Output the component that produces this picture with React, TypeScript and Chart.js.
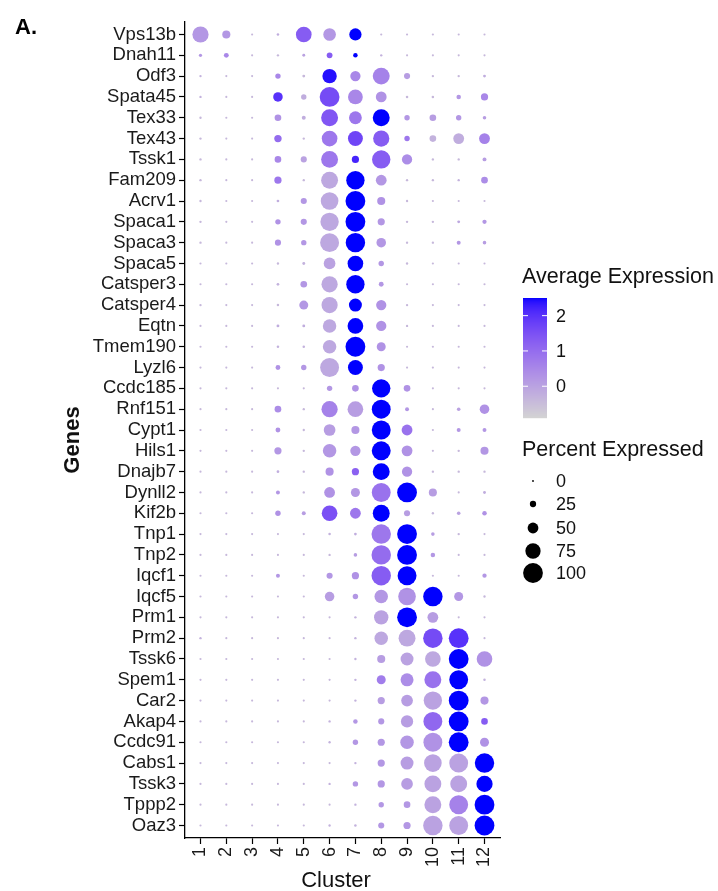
import { useEffect, useRef } from "react";
import { Chart, registerables } from "chart.js";

Chart.register(...registerables);

// ---------------- DATA ----------------
const genes = [
  "Vps13b", "Dnah11", "Odf3", "Spata45", "Tex33", "Tex43", "Tssk1", "Fam209",
  "Acrv1", "Spaca1", "Spaca3", "Spaca5", "Catsper3", "Catsper4", "Eqtn", "Tmem190",
  "Lyzl6", "Ccdc185", "Rnf151", "Cypt1", "Hils1", "Dnajb7", "Dynll2", "Kif2b",
  "Tnp1", "Tnp2", "Iqcf1", "Iqcf5", "Prm1", "Prm2", "Tssk6", "Spem1",
  "Car2", "Akap4", "Ccdc91", "Cabs1", "Tssk3", "Tppp2", "Oaz3",
];

const clusters = ["1", "2", "3", "4", "5", "6", "7", "8", "9", "10", "11", "12"];

// Percent expressed, one row per gene (clusters 1..12)
const pctExpressed: number[][] = [
  [80, 35, 2, 4, 77, 60, 58, 2, 2, 2, 2, 2],
  [8, 17, 2, 3, 6, 22, 15, 3, 2, 2, 2, 2],
  [3, 2, 2, 20, 6, 70, 47, 84, 24, 3, 3, 6],
  [3, 2, 2, 43, 20, 100, 72, 50, 4, 4, 15, 30],
  [3, 2, 2, 27, 12, 84, 61, 84, 20, 27, 20, 10],
  [3, 2, 2, 31, 3, 77, 73, 80, 20, 27, 50, 50],
  [3, 2, 2, 27, 24, 84, 30, 92, 47, 3, 3, 12],
  [3, 2, 2, 30, 3, 84, 92, 50, 3, 3, 3, 27],
  [3, 2, 2, 5, 24, 88, 100, 35, 3, 2, 2, 2],
  [3, 2, 2, 20, 24, 92, 100, 30, 3, 3, 6, 14],
  [3, 2, 2, 24, 20, 95, 98, 43, 3, 3, 12, 10],
  [2, 2, 2, 3, 6, 55, 77, 20, 3, 2, 2, 2],
  [2, 2, 2, 5, 27, 80, 92, 17, 2, 2, 2, 2],
  [3, 2, 2, 4, 40, 80, 62, 47, 3, 2, 2, 2],
  [2, 2, 2, 6, 6, 65, 77, 47, 3, 2, 2, 2],
  [2, 2, 2, 4, 4, 65, 100, 40, 2, 2, 2, 2],
  [2, 2, 2, 17, 20, 95, 73, 30, 2, 2, 2, 2],
  [2, 2, 2, 2, 2, 20, 27, 92, 27, 2, 2, 2],
  [2, 2, 2, 27, 3, 80, 77, 95, 12, 2, 10, 43],
  [2, 2, 2, 17, 3, 55, 35, 95, 50, 2, 12, 12],
  [2, 2, 2, 30, 3, 65, 47, 95, 50, 2, 3, 35],
  [2, 2, 2, 5, 3, 35, 30, 84, 47, 3, 3, 3],
  [2, 2, 2, 12, 3, 50, 40, 95, 100, 35, 2, 6],
  [2, 2, 2, 20, 12, 77, 50, 84, 24, 3, 10, 15],
  [2, 2, 2, 2, 2, 4, 5, 98, 100, 10, 3, 2],
  [2, 2, 2, 2, 2, 3, 10, 98, 100, 15, 2, 2],
  [2, 2, 2, 12, 2, 24, 30, 98, 95, 2, 2, 14],
  [2, 2, 2, 2, 2, 43, 20, 65, 88, 98, 40, 3],
  [2, 2, 2, 2, 2, 2, 3, 70, 100, 50, 2, 2],
  [3, 2, 2, 2, 2, 2, 3, 65, 84, 98, 100, 2],
  [2, 2, 2, 2, 2, 2, 3, 35, 62, 77, 100, 77],
  [2, 2, 2, 2, 2, 2, 3, 40, 62, 84, 95, 4],
  [2, 2, 2, 2, 2, 2, 3, 30, 55, 92, 100, 35],
  [2, 2, 2, 2, 2, 3, 15, 24, 58, 95, 100, 27],
  [2, 2, 2, 2, 2, 3, 20, 30, 65, 95, 100, 40],
  [2, 2, 2, 2, 2, 2, 3, 30, 62, 88, 95, 98],
  [2, 2, 2, 2, 2, 3, 20, 30, 55, 84, 84, 80],
  [2, 2, 2, 2, 2, 2, 3, 20, 27, 84, 95, 100],
  [2, 2, 2, 2, 2, 3, 4, 24, 30, 98, 95, 100],
];

// Average (scaled) expression, one row per gene (clusters 1..12)
const avgExpression: number[][] = [
  [0.2, 0.2, -0.4, -0.2, 1.3, 0.2, 2.5, -0.4, -0.4, -0.4, -0.4, -0.4],
  [0.2, 0.5, -0.4, -0.4, 0.0, 1.3, 2.5, -0.3, -0.4, -0.4, -0.4, -0.4],
  [-0.3, -0.4, -0.4, 0.5, -0.4, 2.4, 0.5, 0.6, 0.1, -0.4, -0.4, -0.2],
  [-0.3, -0.4, -0.4, 2.0, -0.2, 1.6, 0.5, 0.3, -0.4, -0.4, 0.2, 0.5],
  [-0.4, -0.4, -0.4, 0.3, -0.2, 1.4, 0.8, 2.5, 0.2, 0.1, 0.2, 0.1],
  [-0.4, -0.4, -0.4, 1.0, -0.4, 0.8, 1.7, 1.3, 0.8, -0.3, -0.2, 0.6],
  [-0.4, -0.4, -0.4, 0.5, 0.0, 0.8, 2.2, 1.3, 0.4, -0.4, -0.4, 0.1],
  [-0.4, -0.4, -0.4, 0.8, -0.4, -0.1, 2.5, 0.2, -0.4, -0.4, -0.3, 0.4],
  [-0.4, -0.4, -0.4, -0.2, 0.2, -0.1, 2.5, 0.3, -0.4, -0.4, -0.4, -0.4],
  [-0.4, -0.4, -0.4, 0.3, 0.2, -0.1, 2.5, 0.2, -0.4, -0.4, -0.1, 0.2],
  [-0.4, -0.4, -0.4, 0.3, 0.2, -0.1, 2.5, 0.2, -0.4, -0.4, 0.2, 0.1],
  [-0.4, -0.4, -0.4, -0.4, -0.3, 0.0, 2.5, 0.2, -0.4, -0.4, -0.4, -0.4],
  [-0.4, -0.4, -0.4, -0.3, 0.2, -0.1, 2.5, 0.2, -0.4, -0.4, -0.4, -0.4],
  [-0.4, -0.4, -0.4, -0.4, 0.2, -0.1, 2.5, 0.3, -0.4, -0.4, -0.4, -0.4],
  [-0.4, -0.4, -0.4, -0.2, -0.2, -0.1, 2.5, 0.3, -0.4, -0.4, -0.4, -0.4],
  [-0.4, -0.4, -0.4, -0.3, -0.3, -0.1, 2.5, 0.3, -0.4, -0.4, -0.4, -0.4],
  [-0.4, -0.4, -0.4, 0.3, 0.2, -0.1, 2.5, 0.3, -0.4, -0.4, -0.4, -0.4],
  [-0.4, -0.4, -0.4, -0.4, -0.4, 0.2, 0.3, 2.5, 0.3, -0.4, -0.4, -0.4],
  [-0.4, -0.4, -0.4, 0.4, -0.4, 0.6, 0.1, 2.5, 0.2, -0.4, 0.0, 0.3],
  [-0.4, -0.4, -0.4, 0.3, -0.4, 0.1, 0.2, 2.5, 0.9, -0.4, 0.2, 0.2],
  [-0.4, -0.4, -0.4, 0.2, -0.4, 0.2, 0.2, 2.5, 0.3, -0.4, -0.4, 0.2],
  [-0.4, -0.4, -0.4, -0.2, -0.4, 0.3, 1.2, 2.5, 0.3, -0.4, -0.4, -0.4],
  [-0.4, -0.4, -0.4, 0.2, -0.4, 0.3, 0.2, 0.9, 2.5, 0.1, -0.4, -0.2],
  [-0.4, -0.4, -0.4, 0.3, 0.1, 1.5, 0.8, 2.5, 0.1, -0.4, 0.0, 0.3],
  [-0.4, -0.4, -0.4, -0.4, -0.4, -0.3, -0.2, 0.8, 2.5, 0.1, -0.4, -0.4],
  [-0.4, -0.4, -0.4, -0.4, -0.4, -0.4, 0.1, 1.0, 2.5, 0.2, -0.4, -0.4],
  [-0.4, -0.4, -0.4, 0.2, -0.4, 0.2, 0.3, 1.3, 2.5, -0.4, -0.4, 0.2],
  [-0.4, -0.4, -0.4, -0.4, -0.4, 0.1, 0.2, 0.2, 0.3, 2.5, 0.2, -0.4],
  [-0.4, -0.4, -0.4, -0.4, -0.4, -0.4, -0.3, 0.0, 2.5, 0.1, -0.4, -0.4],
  [-0.3, -0.4, -0.4, -0.4, -0.4, -0.4, -0.3, -0.1, -0.1, 1.6, 2.0, -0.4],
  [-0.4, -0.4, -0.4, -0.4, -0.4, -0.4, -0.3, 0.1, 0.0, -0.1, 2.5, 0.3],
  [-0.4, -0.4, -0.4, -0.4, -0.4, -0.4, -0.3, 0.7, 0.4, 0.9, 2.5, -0.3],
  [-0.4, -0.4, -0.4, -0.4, -0.4, -0.4, -0.3, 0.1, 0.1, 0.0, 2.5, 0.2],
  [-0.4, -0.4, -0.4, -0.4, -0.4, -0.3, 0.2, 0.2, 0.1, 1.1, 2.5, 1.3],
  [-0.4, -0.4, -0.4, -0.4, -0.4, -0.3, 0.2, 0.2, 0.2, 0.3, 2.5, 0.3],
  [-0.4, -0.4, -0.4, -0.4, -0.4, -0.4, -0.3, 0.2, 0.1, 0.0, 0.0, 2.5],
  [-0.4, -0.4, -0.4, -0.4, -0.4, -0.3, 0.2, 0.2, 0.1, 0.0, 0.0, 2.5],
  [-0.4, -0.4, -0.4, -0.4, -0.4, -0.4, -0.3, 0.2, 0.2, 0.0, 0.6, 2.5],
  [-0.4, -0.4, -0.4, -0.4, -0.4, -0.3, -0.3, 0.2, 0.2, 0.0, 0.0, 2.5],
];

const colorLimits = [-0.9, 2.5];
const colorBreaks = [2, 1, 0];
const sizeBreaks = [0, 25, 50, 75, 100];

// ---------------- STYLE HELPERS ----------------
const FONT = "'Liberation Sans', Arial, Helvetica, sans-serif";
const LOW = [211, 211, 211];
const HIGH = [0, 0, 255];

function toLin(c: number) {
  c /= 255;
  return c <= 0.04045 ? c / 12.92 : Math.pow((c + 0.055) / 1.055, 2.4);
}
function fromLin(c: number) {
  const v = c <= 0.0031308 ? 12.92 * c : 1.055 * Math.pow(c, 1 / 2.4) - 0.055;
  return Math.round(Math.max(0, Math.min(1, v)) * 255);
}
function rgbToLab(rgb: number[]) {
  const R = toLin(rgb[0]), G = toLin(rgb[1]), B = toLin(rgb[2]);
  const X = (0.4124 * R + 0.3576 * G + 0.1805 * B) / 0.95047;
  const Y = 0.2126 * R + 0.7152 * G + 0.0722 * B;
  const Z = (0.0193 * R + 0.1192 * G + 0.9505 * B) / 1.08883;
  const f = (t: number) => (t > 0.008856 ? Math.cbrt(t) : 7.787 * t + 16 / 116);
  const fx = f(X), fy = f(Y), fz = f(Z);
  return [116 * fy - 16, 500 * (fx - fy), 200 * (fy - fz)];
}
function labToRgb(lab: number[]) {
  const fy = (lab[0] + 16) / 116;
  const fx = fy + lab[1] / 500;
  const fz = fy - lab[2] / 200;
  const inv = (t: number) => (t * t * t > 0.008856 ? t * t * t : (t - 16 / 116) / 7.787);
  const X = inv(fx) * 0.95047, Y = inv(fy), Z = inv(fz) * 1.08883;
  const R = 3.2406 * X - 1.5372 * Y - 0.4986 * Z;
  const G = -0.9689 * X + 1.8758 * Y + 0.0415 * Z;
  const B = 0.0557 * X - 0.204 * Y + 1.057 * Z;
  return [fromLin(R), fromLin(G), fromLin(B)];
}
const LAB_LOW = rgbToLab(LOW);
const LAB_HIGH = rgbToLab(HIGH);
function colorFor(v: number) {
  let t = (v - colorLimits[0]) / (colorLimits[1] - colorLimits[0]);
  t = Math.max(0, Math.min(1, t));
  const lab = [0, 1, 2].map((k) => LAB_LOW[k] + (LAB_HIGH[k] - LAB_LOW[k]) * t);
  const [r, g, b] = labToRgb(lab);
  return `rgb(${r},${g},${b})`;
}
function radiusFor(p: number) {
  return 0.9 + 0.09 * p;
}

// ---------------- LAYOUT ----------------
const W = 718;
const H = 891;
const PLOT_LEFT = 185;
const PLOT_RIGHT = 500;
const PLOT_TOP = 22;
const PLOT_BOTTOM = 838;

const overlayPlugin = {
  id: "overlay",
  afterDraw(chart: any) {
    const ctx: CanvasRenderingContext2D = chart.ctx;
    const area = chart.chartArea;
    ctx.save();

    // Panel label
    ctx.fillStyle = "#000";
    ctx.font = `bold 22px ${FONT}`;
    ctx.textAlign = "left";
    ctx.textBaseline = "alphabetic";
    ctx.fillText("A.", 15, 34);

    // Axis titles
    ctx.font = `bold 22px ${FONT}`;
    ctx.fillStyle = "#111";
    ctx.save();
    ctx.translate(73, 440);
    ctx.rotate(-Math.PI / 2);
    ctx.textAlign = "center";
    ctx.textBaseline = "middle";
    ctx.fillText("Genes", 0, 0);
    ctx.restore();

    ctx.font = `22px ${FONT}`;
    ctx.textAlign = "center";
    ctx.textBaseline = "middle";
    ctx.fillText("Cluster", 336, 881);

    // Colour legend
    const lx = 522;
    ctx.textAlign = "left";
    ctx.textBaseline = "alphabetic";
    ctx.font = `21.5px ${FONT}`;
    ctx.fillStyle = "#111";
    ctx.fillText("Average Expression", lx, 283);

    const barX = 523, barW = 24, barTop = 298, barH = 120;
    const [cmin, cmax] = colorLimits;
    for (let k = 0; k < barH; k++) {
      const v = cmax - ((k + 0.5) / barH) * (cmax - cmin);
      ctx.fillStyle = colorFor(v);
      ctx.fillRect(barX, barTop + k, barW, 1.2);
    }
    ctx.font = `18px ${FONT}`;
    ctx.textBaseline = "middle";
    colorBreaks.forEach((b) => {
      const y = barTop + ((cmax - b) / (cmax - cmin)) * barH;
      ctx.strokeStyle = "#fff";
      ctx.lineWidth = 1;
      ctx.beginPath();
      ctx.moveTo(barX, y);
      ctx.lineTo(barX + 5, y);
      ctx.moveTo(barX + barW - 5, y);
      ctx.lineTo(barX + barW, y);
      ctx.stroke();
      ctx.fillStyle = "#111";
      ctx.fillText(String(b), 556, y + 1);
    });

    // Size legend
    ctx.textBaseline = "alphabetic";
    ctx.font = `21.5px ${FONT}`;
    ctx.fillText("Percent Expressed", lx, 456);
    const sizeY = [481, 504, 528, 551, 573];
    ctx.font = `18px ${FONT}`;
    ctx.textBaseline = "middle";
    sizeBreaks.forEach((s, i) => {
      ctx.fillStyle = "#000";
      ctx.beginPath();
      ctx.arc(533, sizeY[i], radiusFor(s), 0, Math.PI * 2);
      ctx.fill();
      ctx.fillStyle = "#111";
      ctx.fillText(String(s), 556, sizeY[i] + 1);
    });

    ctx.restore();
  },
};

export default function App() {
  const ref = useRef<HTMLCanvasElement | null>(null);

  useEffect(() => {
    if (!ref.current) return;
    const points: any[] = [];
    const colors: string[] = [];
    genes.forEach((g, i) => {
      clusters.forEach((c, j) => {
        points.push({ x: j + 1, y: genes.length - i, r: radiusFor(pctExpressed[i][j]) });
        colors.push(colorFor(avgExpression[i][j]));
      });
    });

    const chart = new Chart(ref.current, {
      type: "bubble",
      data: {
        datasets: [
          {
            data: points,
            backgroundColor: colors,
            borderWidth: 0,
            hoverRadius: 0,
            hoverBorderWidth: 0,
          } as any,
        ],
      },
      plugins: [overlayPlugin],
      options: {
        responsive: false,
        maintainAspectRatio: false,
        devicePixelRatio: 1,
        animation: false,
        events: [],
        layout: {
          padding: { left: 0, right: W - PLOT_RIGHT, top: PLOT_TOP, bottom: 0 },
        },
        plugins: {
          legend: { display: false },
          tooltip: { enabled: false },
        },
        scales: {
          x: {
            type: "linear",
            min: 0.4,
            max: 12.6,
            afterBuildTicks: (axis: any) => {
              axis.ticks = clusters.map((_, j) => ({ value: j + 1 }));
            },
            afterFit: (axis: any) => {
              axis.height = H - PLOT_BOTTOM;
            },
            ticks: {
              autoSkip: false,
              minRotation: 90,
              maxRotation: 90,
              padding: 3,
              color: "#1a1a1a",
              font: { family: FONT, size: 18 },
              callback: (v: any) => clusters[Number(v) - 1] ?? "",
            },
            grid: {
              drawOnChartArea: false,
              drawTicks: true,
              tickLength: 6,
              tickColor: "#000",
              tickWidth: 1.2,
            },
            border: { display: true, color: "#000", width: 1.3 },
          },
          y: {
            type: "linear",
            min: 0.4,
            max: genes.length + 0.6,
            afterBuildTicks: (axis: any) => {
              axis.ticks = genes.map((_, i) => ({ value: i + 1 }));
            },
            afterFit: (axis: any) => {
              axis.width = PLOT_LEFT;
            },
            ticks: {
              autoSkip: false,
              padding: 3,
              color: "#1a1a1a",
              font: { family: FONT, size: 18.5 },
              callback: (v: any) => genes[genes.length - Number(v)] ?? "",
            },
            grid: {
              drawOnChartArea: false,
              drawTicks: true,
              tickLength: 6,
              tickColor: "#000",
              tickWidth: 1.2,
            },
            border: { display: true, color: "#000", width: 1.3 },
          },
        },
      } as any,
    });
    return () => chart.destroy();
  }, []);

  return (
    <div style={{ position: "absolute", left: 0, top: 0, width: W, height: H, background: "#fff" }}>
      <canvas ref={ref} width={W} height={H} style={{ display: "block", width: W, height: H }} />
    </div>
  );
}
